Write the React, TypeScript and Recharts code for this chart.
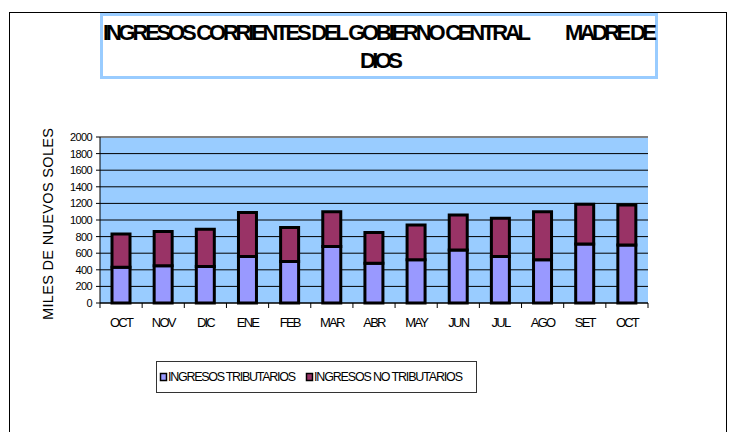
import React from 'react';
import { BarChart, Bar, XAxis, YAxis, CartesianGrid, ReferenceLine } from 'recharts';

const months = ['OCT', 'NOV', 'DIC', 'ENE', 'FEB', 'MAR', 'ABR', 'MAY', 'JUN', 'JUL', 'AGO', 'SET', 'OCT'];
const tributarios = [430, 450, 440, 560, 500, 680, 480, 520, 640, 560, 520, 710, 700];
const noTributarios = [400, 410, 450, 530, 410, 420, 370, 420, 420, 460, 580, 480, 480];
const yTicks = [0, 200, 400, 600, 800, 1000, 1200, 1400, 1600, 1800, 2000];
const seriesNames = ['INGRESOS TRIBUTARIOS', 'INGRESOS NO TRIBUTARIOS'];
const seriesColors = ['#9999FF', '#993366'];
const titleLine1a = 'INGRESOS CORRIENTES DEL GOBIERNO CENTRAL';
const titleLine1b = 'MADRE DE';
const titleLine2 = 'DIOS';
const yLabel = 'MILES DE NUEVOS SOLES';

const data = months.map((m, i) => ({ mes: m, trib: tributarios[i], noTrib: noTributarios[i] }));

const FONT = '"Liberation Sans", Arial, sans-serif';

const XTick = (props: any) => {
  const { x, y, payload, index, visibleTicksCount } = props;
  const half = payload && typeof payload.offset === 'number' ? payload.offset : 21.08;
  const axisY = y - 14;
  const isLast = index === visibleTicksCount - 1;
  return (
    <g>
      <line x1={x - half} x2={x - half} y1={axisY} y2={axisY + 5} stroke="#000" />
      {isLast && <line x1={x + half} x2={x + half} y1={axisY} y2={axisY + 5} stroke="#000" />}
      <text x={x} y={axisY + 24} textAnchor="middle" fontFamily={FONT} fontSize={13} letterSpacing={-1.8} fill="#000">
        {payload.value}
      </text>
    </g>
  );
};

const YTick = (props: any) => {
  const { x, y, payload } = props;
  return (
    <text x={x} y={y + 4} textAnchor="end" fontFamily={FONT} fontSize={11} letterSpacing={-0.6} fill="#000">
      {payload.value}
    </text>
  );
};

export default function App() {
  return (
    <div style={{ position: 'absolute', left: 0, top: 0, width: 735, height: 432, background: '#fff' }}>
      <BarChart
        width={735}
        height={432}
        data={data}
        margin={{ top: 137, right: 87, bottom: 99, left: 0 }}
        barSize={18}
      >
        <CartesianGrid
          horizontal={true}
          vertical={false}
          stroke="#000"
          fill="#99CCFF"
          fillOpacity={1}
          yAxisId="l"
          xAxisId="c"
        />
        <XAxis
          xAxisId="c"
          dataKey="mes"
          height={30}
          tickLine={false}
          tickSize={0}
          tickMargin={14}
          axisLine={{ stroke: '#000' }}
          interval={0}
          tick={<XTick />}
        />
        <YAxis
          yAxisId="l"
          width={100}
          domain={[0, 2000]}
          ticks={yTicks}
          interval={0}
          tickSize={4}
          tickMargin={4}
          tickLine={{ stroke: '#000' }}
          axisLine={{ stroke: '#000' }}
          tick={<YTick />}
        />
        <YAxis
          yAxisId="r"
          orientation="right"
          width={0}
          domain={[0, 2000]}
          tick={false}
          tickLine={false}
          axisLine={{ stroke: '#808080', strokeWidth: 2 }}
        />
        <ReferenceLine yAxisId="l" xAxisId="c" y={2000} stroke="#808080" strokeWidth={2} />
        <Bar
          xAxisId="c"
          yAxisId="l"
          dataKey="trib"
          name={seriesNames[0]}
          stackId="a"
          fill={seriesColors[0]}
          stroke="#000"
          strokeWidth={3}
          isAnimationActive={false}
        />
        <Bar
          xAxisId="c"
          yAxisId="l"
          dataKey="noTrib"
          name={seriesNames[1]}
          stackId="a"
          fill={seriesColors[1]}
          stroke="#000"
          strokeWidth={3}
          isAnimationActive={false}
        />
      </BarChart>
      <svg
        width={735}
        height={432}
        style={{ position: 'absolute', left: 0, top: 0, pointerEvents: 'none' }}
      >
        <rect x={9.5} y={12.5} width={717} height={440} fill="none" stroke="#000" strokeWidth={1} />
        <rect x={101.5} y={14.5} width={555} height={63} fill="#fff" stroke="#99CCFF" strokeWidth={3} />
        <text x={103} y={40} fontFamily={FONT} fontWeight="bold" fontSize={22} textLength={428} lengthAdjust="spacing" fill="#000">
          {titleLine1a}
        </text>
        <text x={565} y={40} fontFamily={FONT} fontWeight="bold" fontSize={22} textLength={92} lengthAdjust="spacing" fill="#000">
          {titleLine1b}
        </text>
        <text x={360} y={68} fontFamily={FONT} fontWeight="bold" fontSize={22} textLength={43} lengthAdjust="spacing" fill="#000">
          {titleLine2}
        </text>
        <text
          x={0}
          y={0}
          transform="translate(53,224) rotate(-90)"
          textAnchor="middle"
          fontFamily={FONT}
          fontSize={14.5}
          textLength={192}
          lengthAdjust="spacing"
          fill="#000"
        >
          {yLabel}
        </text>
        <rect x={156.5} y={361.5} width={320} height={31} fill="#fff" stroke="#333" strokeWidth={1} />
        <rect x={160.5} y={373.5} width={6} height={7} fill={seriesColors[0]} stroke="#000" strokeWidth={1.5} />
        <text x={168} y={381} fontFamily={FONT} fontSize={12.5} textLength={128} lengthAdjust="spacing" fill="#000">
          {seriesNames[0]}
        </text>
        <rect x={306.5} y={373.5} width={6} height={7} fill={seriesColors[1]} stroke="#000" strokeWidth={1.5} />
        <text x={314} y={381} fontFamily={FONT} fontSize={12.5} textLength={149} lengthAdjust="spacing" fill="#000">
          {seriesNames[1]}
        </text>
      </svg>
    </div>
  );
}
